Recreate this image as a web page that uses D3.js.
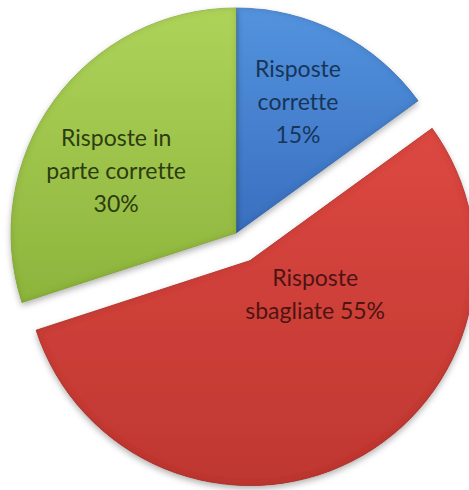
<!DOCTYPE html>
<html>
<head>
<meta charset="utf-8">
<script src="https://cdn.jsdelivr.net/npm/d3@7"></script>
<style>
  body { margin: 0; background: #fff; }
  svg { display: block; }
</style>
</head>
<body>
<svg id="chart" width="469" height="490"></svg>
<script>
// chart data
const categories = ["Risposte corrette", "Risposte sbagliate", "Risposte in parte corrette"];
const values = [15, 55, 30];
const labelLines = [["Risposte", "corrette", "15%"], ["Risposte", "sbagliate 55%"], ["Risposte in", "parte corrette", "30%"]];
const exploded = [false, true, false];

const W = 469, H = 490;
const cx = 236, cy = 233, R = 225;
const explodeDist = 31;

// slice colours (light top, dark bottom, edge, text)
const fills = [
  {top: "#5393de", bottom: "#3a6fbf", edge: "#2c5590", text: "#17355a"},
  {top: "#dc4841", bottom: "#bf3731", edge: "#8a2420", text: "#4e1412"},
  {top: "#aed35a", bottom: "#8db43c", edge: "#6a8a28", text: "#2e3c12"}
];

const svg = d3.select("#chart");
const defs = svg.append("defs");

// drop shadow under slices
let shadow = defs.append("filter").attr("id", "shadow")
  .attr("x", "-10%").attr("y", "-10%").attr("width", "120%").attr("height", "125%");
shadow.append("feDropShadow")
  .attr("dx", 0).attr("dy", 3).attr("stdDeviation", 3)
  .attr("flood-color", "#000").attr("flood-opacity", 0.3);

// soft inner bevel
let bevel = defs.append("filter").attr("id", "bevel");
bevel.append("feGaussianBlur").attr("in", "SourceAlpha").attr("stdDeviation", 3).attr("result", "blur");
bevel.append("feComposite").attr("in", "SourceAlpha").attr("in2", "blur").attr("operator", "out").attr("result", "rim");
bevel.append("feFlood").attr("flood-color", "#000").attr("flood-opacity", 0.25);
bevel.append("feComposite").attr("in2", "rim").attr("operator", "in").attr("result", "rimShade");
let merge = bevel.append("feMerge");
merge.append("feMergeNode").attr("in", "SourceGraphic");
merge.append("feMergeNode").attr("in", "rimShade");

fills.forEach((f, i) => {
  let g = defs.append("linearGradient").attr("id", "grad" + i)
    .attr("x1", 0).attr("y1", 0).attr("x2", 0).attr("y2", 1);
  g.append("stop").attr("offset", "0%").attr("stop-color", f.top);
  g.append("stop").attr("offset", "100%").attr("stop-color", f.bottom);
});

const pie = d3.pie().sort(null).value(d => d);
const arcs = pie(values);
const arc = d3.arc().innerRadius(0).outerRadius(R);

// per-slice label position: radius fraction and angle nudge (radians)
const labelRadius = [0.645, 0.326, 0.6];
const labelAngleShift = [-0.03, -0.62, -0.15];

const root = svg.append("g").attr("transform", `translate(${cx},${cy})`);

const slices = root.selectAll("g.slice")
  .data(arcs)
  .join("g")
  .attr("class", "slice")
  .attr("transform", (d, i) => {
    if (!exploded[i]) return null;
    let mid = (d.startAngle + d.endAngle) / 2;
    return `translate(${Math.sin(mid) * explodeDist},${-Math.cos(mid) * explodeDist})`;
  });

slices.append("path")
  .attr("d", arc)
  .attr("fill", (d, i) => `url(#grad${i})`)
  .attr("stroke", (d, i) => fills[i].edge)
  .attr("stroke-width", 1)
  .attr("stroke-opacity", 0.6)
  .attr("filter", "url(#shadow)");

slices.append("path")
  .attr("d", arc)
  .attr("fill", (d, i) => `url(#grad${i})`)
  .attr("filter", "url(#bevel)");

// labels
const lineH = 33;
slices.each(function(d, i) {
  let mid = (d.startAngle + d.endAngle) / 2 + labelAngleShift[i];
  let r = R * labelRadius[i];
  let lx = Math.sin(mid) * r;
  let ly = -Math.cos(mid) * r;
  let lines = labelLines[i];
  let text = d3.select(this).append("text")
    .attr("text-anchor", "middle")
    .attr("font-family", "Lato, 'Open Sans', sans-serif")
    .attr("font-size", "23px")
    .style("font-variant-ligatures", "none")
    .attr("fill", fills[i].text);
  lines.forEach((ln, j) => {
    text.append("tspan")
      .attr("x", lx)
      .attr("y", ly + (j - (lines.length - 1) / 2) * lineH)
      .attr("dy", "0.35em")
      .text(ln);
  });
});
</script>
</body>
</html>
